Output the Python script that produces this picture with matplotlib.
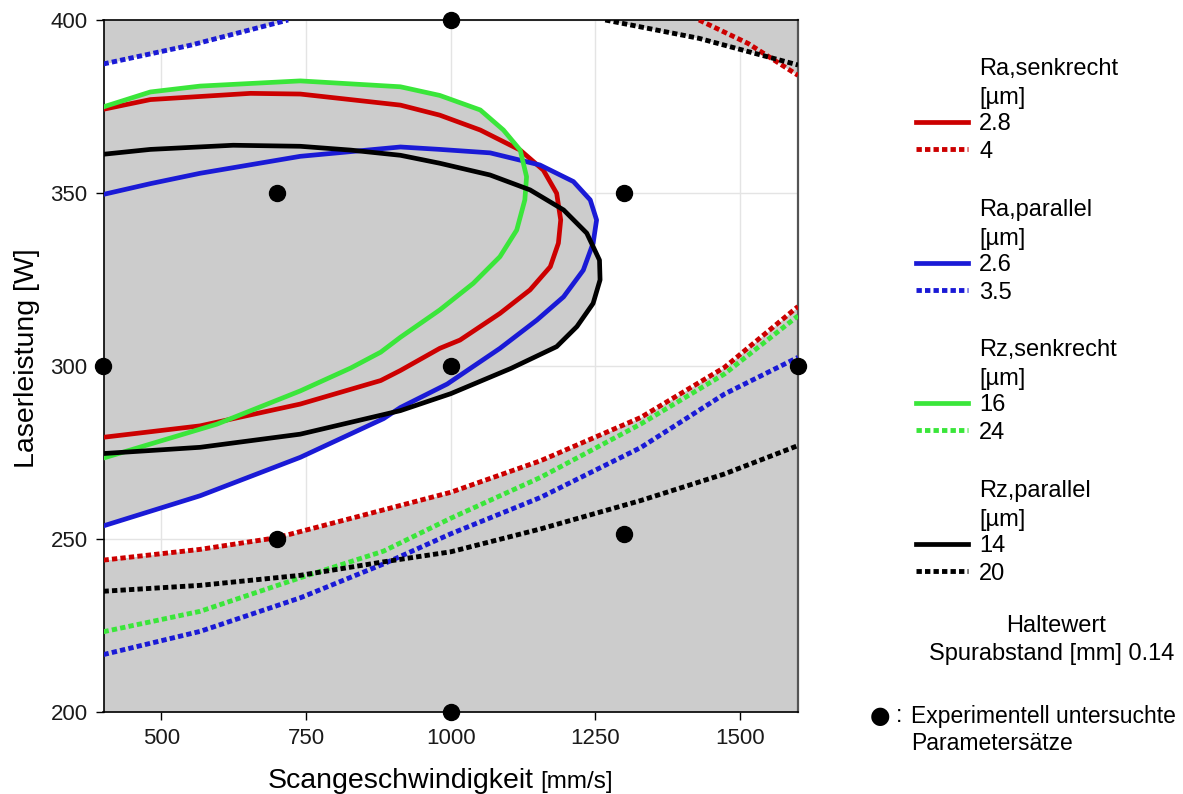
import matplotlib
matplotlib.use("Agg")
import matplotlib.pyplot as plt

plt.rcParams['font.family'] = ['Liberation Sans', 'DejaVu Sans']

# achsen
x_min, x_max = 400, 1600
y_min, y_max = 200, 400
x_ticks = [500, 750, 1000, 1250, 1500]
y_ticks = [200, 250, 300, 350, 400]

# experimentell untersuchte Parametersaetze
exp_speed = [400, 700, 700, 1000, 1000, 1000, 1300, 1300, 1600]
exp_power = [300, 350, 250, 400, 300, 200, 350, 251.5, 300]

# Ra,senkrecht = 2.8 (geschlossene Kontur, links abgeschnitten)
ra_s_lo_x = [400, 481, 654, 740, 913, 981, 1051, 1120, 1160, 1183, 1190, 1186, 1172, 1137, 1085, 1016, 981, 913, 879, 740, 567, 400]
ra_s_lo_y = [374.2, 377.0, 378.8, 378.6, 375.4, 372.5, 368.2, 362.4, 356.6, 349.9, 342.2, 335.5, 328.7, 322.0, 315.2, 307.5, 305.1, 298.7, 295.8, 289.0, 282.7, 279.4]
# Ra,senkrecht = 4
ra_s_hi_x = [400, 567, 700, 856, 1000, 1155, 1328, 1473, 1600]
ra_s_hi_y = [243.9, 247.0, 250.4, 257.2, 263.5, 272.6, 285.1, 299.6, 317.2]
ra_s_hi_top_x = [1429, 1514, 1600]
ra_s_hi_top_y = [400, 393.2, 384.0]

# Ra,parallel = 2.6
ra_p_lo_x = [400, 481, 567, 740, 913, 981, 1068, 1154, 1212, 1241, 1252, 1246, 1229, 1195, 1149, 1085, 994, 913, 884, 740, 567, 400]
ra_p_lo_y = [349.6, 352.7, 355.7, 360.6, 363.3, 362.6, 361.6, 358.1, 353.3, 348.0, 342.2, 335.5, 327.7, 320.0, 313.3, 305.1, 294.8, 288.0, 284.8, 273.6, 262.5, 253.8]
# Ra,parallel = 3.5
ra_p_hi_x = [400, 567, 740, 884, 1000, 1155, 1328, 1473, 1600]
ra_p_hi_y = [216.6, 223.3, 233.0, 242.8, 251.5, 262.0, 276.4, 291.9, 302.5]
ra_p_hi_top_x = [400, 550, 719]
ra_p_hi_top_y = [387.3, 392.7, 400]

# Rz,senkrecht = 16
rz_s_lo_x = [400, 481, 567, 740, 913, 981, 1051, 1091, 1120, 1131, 1128, 1114, 1085, 1039, 981, 913, 879, 827, 740, 596, 400]
rz_s_lo_y = [374.9, 379.2, 380.9, 382.4, 380.7, 378.2, 374.0, 368.2, 362.4, 354.7, 348.0, 339.3, 331.6, 323.9, 316.2, 308.3, 304.0, 299.4, 292.8, 283.2, 273.4]
# Rz,senkrecht = 24
rz_s_hi_x = [400, 567, 740, 884, 1000, 1155, 1328, 1473, 1600]
rz_s_hi_y = [223.2, 229.1, 238.8, 246.5, 256.0, 267.8, 283.2, 297.7, 314.5]

# Rz,parallel = 14
rz_p_lo_x = [400, 481, 624, 740, 827, 913, 981, 1068, 1137, 1195, 1235, 1257, 1258, 1246, 1218, 1183, 1104, 1000, 913, 740, 567, 400]
rz_p_lo_y = [361.2, 362.6, 363.8, 363.5, 362.4, 360.9, 358.6, 355.2, 350.9, 345.1, 338.4, 330.6, 324.9, 318.1, 311.4, 305.6, 299.3, 292.0, 287.1, 280.3, 276.5, 274.7]
# Rz,parallel = 20
rz_p_hi_x = [400, 567, 740, 884, 1000, 1155, 1328, 1473, 1600]
rz_p_hi_y = [234.9, 236.6, 239.5, 243.4, 246.3, 252.9, 261.1, 268.8, 277.0]
rz_p_hi_top_x = [1267, 1429, 1600]
rz_p_hi_top_y = [400, 394.7, 387.0]

groups = [
    ("Ra,senkrecht", "#cc0000", ["2.8", "4"]),
    ("Ra,parallel", "#1a1ad6", ["2.6", "3.5"]),
    ("Rz,senkrecht", "#3ae63a", ["16", "24"]),
    ("Rz,parallel", "#000000", ["14", "20"]),
]

W, H = 1183, 794
gray = "#cccccc"
dots = (0, (1.1, 0.65))

fig = plt.figure(figsize=(W / 100, H / 100), dpi=100)
ax = fig.add_axes([103.5 / W, 1 - 712 / H, 694.5 / W, 692 / H])
ax.set_xlim(x_min, x_max)
ax.set_ylim(y_min, y_max)

ax.set_axisbelow(True)
ax.grid(True, color="#e4e4e4", lw=1)

# grau = ausserhalb der Grenzwerte
ax.fill_between(ra_s_hi_x, ra_s_hi_y, y_min, color=gray, lw=0)
ax.fill_between(ra_p_hi_top_x, ra_p_hi_top_y, y_max, color=gray, lw=0)
ax.fill_between(rz_p_hi_top_x, rz_p_hi_top_y, y_max, color=gray, lw=0)
ax.fill_between(ra_s_hi_top_x, ra_s_hi_top_y, y_max, color=gray, lw=0)
for cx, cy in [(ra_s_lo_x, ra_s_lo_y), (ra_p_lo_x, ra_p_lo_y),
               (rz_s_lo_x, rz_s_lo_y), (rz_p_lo_x, rz_p_lo_y)]:
    ax.fill(cx, cy, color=gray, lw=0)

curves = [
    (ra_s_lo_x, ra_s_lo_y, ra_s_hi_x, ra_s_hi_y, [(ra_s_hi_top_x, ra_s_hi_top_y)]),
    (ra_p_lo_x, ra_p_lo_y, ra_p_hi_x, ra_p_hi_y, [(ra_p_hi_top_x, ra_p_hi_top_y)]),
    (rz_s_lo_x, rz_s_lo_y, rz_s_hi_x, rz_s_hi_y, []),
    (rz_p_lo_x, rz_p_lo_y, rz_p_hi_x, rz_p_hi_y, [(rz_p_hi_top_x, rz_p_hi_top_y)]),
]
handles = []
for (lx, ly, hx, hy, tops), (name, col, labs) in zip(curves, groups):
    h1, = ax.plot(lx, ly, color=col, lw=3.4, solid_joinstyle="round", zorder=3)
    h2, = ax.plot(hx, hy, color=col, lw=3.5, ls=dots, dash_capstyle="butt", zorder=3)
    for tx, ty in tops:
        ax.plot(tx, ty, color=col, lw=3.5, ls=dots, dash_capstyle="butt", zorder=3)
    handles.append((h1, h2))

ax.plot(exp_speed, exp_power, "o", color="black", ms=11.5, clip_on=False, zorder=5)

ax.set_xticks(x_ticks)
ax.set_yticks(y_ticks)
ax.tick_params(labelsize=16, length=6, width=1, pad=5.5, labelcolor="#1a1a1a")
for s in ["left", "bottom", "top"]:
    ax.spines[s].set_color("black")
    ax.spines[s].set_linewidth(1.2)
ax.spines["right"].set_color("#555555")
ax.spines["right"].set_linewidth(1.6)

# achsenbeschriftung
fig.text(27 / W, 1 - 358 / H, "Laserleistung [W]", rotation=90, fontsize=20.5,
         ha="center", va="center")
fig.text(268 / W, 1 - 788 / H, "Scangeschwindigkeit", fontsize=20.5, ha="left", va="baseline")
fig.text(540 / W, 1 - 788 / H, "[mm/s]", fontsize=17.5, ha="left", va="baseline")

# legende
group_top = [67, 208, 348, 489]
for (name, col, labs), (h1, h2), gy in zip(groups, handles, group_top):
    fig.text(979 / W, 1 - (gy + 2) / H, name, fontsize=17, va="center")
    fig.text(979 / W, 1 - (gy + 31) / H, "[µm]", fontsize=17, va="center")
    fig.legend(handles=[h1, h2], labels=labs, loc="upper left",
               bbox_to_anchor=(916 / W, 1 - (gy + 46) / H), frameon=False,
               fontsize=17, handlelength=2.2, handletextpad=0.47,
               labelspacing=0.24, borderpad=0, borderaxespad=0)

fig.text(1056 / W, 1 - 626 / H, "Haltewert", fontsize=17, ha="center", va="center")
fig.text(1052 / W, 1 - 654 / H, "Spurabstand [mm] 0.14", fontsize=17, ha="center", va="center")
fig.text(880 / W, 1 - 716 / H, "●", fontsize=17, ha="center", va="center",
         family=["DejaVu Sans"])
fig.text(896 / W, 1 - 716 / H, ":", fontsize=16.5, ha="left", va="center")
fig.text(911 / W, 1 - 716 / H, "Experimentell untersuchte", fontsize=16.5, ha="left", va="center")
fig.text(911 / W, 1 - 744 / H, "Parametersätze", fontsize=16.5, ha="left", va="center")

fig.savefig("out.png", dpi=100)
